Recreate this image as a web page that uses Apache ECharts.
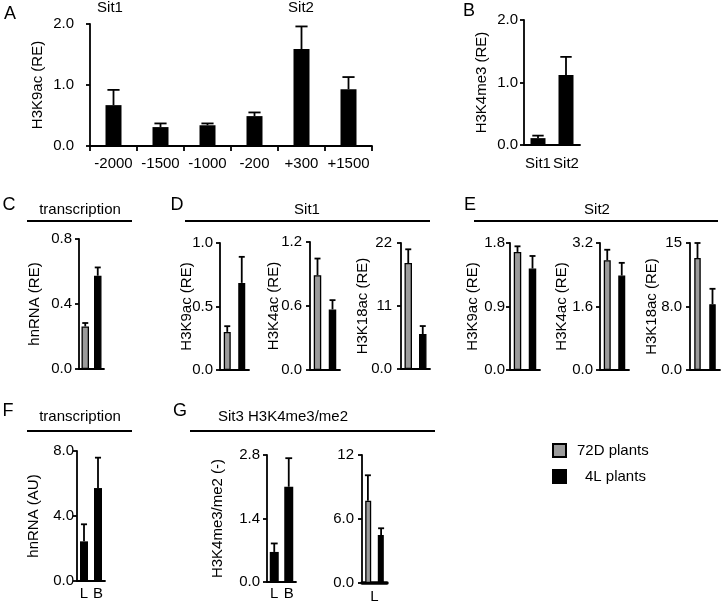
<!DOCTYPE html>
<html><head><meta charset="utf-8">
<script src="https://cdn.jsdelivr.net/npm/echarts@6/dist/echarts.min.js"></script>
<style>html,body{margin:0;padding:0;background:#fff}#c{width:722px;height:604px}</style>
</head><body><div id="c"></div>
<script>
// ---------- data ----------
const aCats = ['-2000','-1500','-1000','-200','+300','+1500'];
const aVals = [0.67,0.31,0.34,0.49,1.59,0.93];
const aErr  = [0.25,0.06,0.03,0.06,0.37,0.20];
const aTicks = ['0.0','1.0','2.0'];

const bCats = ['Sit1','Sit2'];
const bVals = [0.11,1.12];
const bErr  = [0.04,0.29];
const bTicks = ['0.0','1.0','2.0'];

// two-group panels: [72D plants, 4L plants]
const cVals = [0.262,0.574];  const cErr = [0.021,0.051]; const cTicks = ['0.0','0.4','0.8'];
const d1Vals = [0.30,0.686];  const d1Err = [0.045,0.205]; const d1Ticks = ['0.0','0.5','1.0'];
const d2Vals = [0.889,0.568]; const d2Err = [0.156,0.087]; const d2Ticks = ['0.0','0.6','1.2'];
const d3Vals = [18.5,6.1];    const d3Err = [2.4,1.4];     const d3Ticks = ['0.0','11','22'];
const e1Vals = [1.673,1.438]; const e1Err = [0.08,0.178];  const e1Ticks = ['0.0','0.9','1.8'];
const e2Vals = [2.765,2.38];  const e2Err = [0.265,0.32];  const e2Ticks = ['0.0','1.6','3.2'];
const e3Vals = [13.22,7.78];  const e3Err = [1.78,1.81];   const e3Ticks = ['0.0','8.0','15'];

const fCats = ['L','B'];
const fVals = [2.44,5.72];    const fErr = [1.05,1.87];    const fTicks = ['0.0','4.0','8.0'];
const g1Cats = ['L','B'];
const g1Vals = [0.663,2.10];  const g1Err = [0.187,0.63];  const g1Ticks = ['0.0','1.4','2.8'];
const g2Cats = ['L'];
const g2Vals = [7.72,4.5];    const g2Err = [2.38,0.63];   const g2Ticks = ['0.0','6.0','12'];

const groupNames = ['72D plants','4L plants'];
// ---------- styling ----------
const FONT = 'Liberation Sans, Arial, sans-serif';
const FS = 15;
const GRAY = '#9b9b9b';
const LW = 1.8;

const panels = [
  {key:'A', grid:{left:90,top:24,width:282,height:122}, max:2.0, ticks:aTicks, name:'H3K9ac (RE)', gap:45, lm:16,
   cats:aCats, single:aVals, err:aErr, bw:16, xTick:true, xLab:true, xm:10},
  {key:'B', grid:{left:524,top:20,width:56,height:125}, max:2.0, ticks:bTicks, name:'H3K4me3 (RE)', gap:35, lm:6,
   cats:bCats, single:bVals, err:bErr, bw:15, xLab:true, xm:11},
  {key:'C', grid:{left:79,top:239,width:25,height:130}, max:0.8, ticks:cTicks, name:'hnRNA (RE)', gap:37, lm:7,
   pair:cVals, err:cErr, bw:7.5},
  {key:'D1', grid:{left:220,top:243,width:29,height:127}, max:1.0, ticks:d1Ticks, name:'H3K9ac (RE)', gap:26, lm:7,
   pair:d1Vals, err:d1Err, bw:7},
  {key:'D2', grid:{left:310,top:242,width:30,height:128}, max:1.2, ticks:d2Ticks, name:'H3K4ac (RE)', gap:29, lm:8,
   pair:d2Vals, err:d2Err, bw:7.5},
  {key:'D3', grid:{left:401,top:243,width:29,height:126}, max:22, ticks:d3Ticks, name:'H3K18ac (RE)', gap:31, lm:9,
   pair:d3Vals, err:d3Err, bw:7.5},
  {key:'E1', grid:{left:510,top:243,width:30,height:127}, max:1.8, ticks:e1Ticks, name:'H3K9ac (RE)', gap:30, lm:5,
   pair:e1Vals, err:e1Err, bw:7.5},
  {key:'E2', grid:{left:600,top:243,width:29,height:127}, max:3.2, ticks:e2Ticks, name:'H3K4ac (RE)', gap:31, lm:7,
   pair:e2Vals, err:e2Err, bw:7},
  {key:'E3', grid:{left:690,top:243,width:30,height:127}, max:15, ticks:e3Ticks, name:'H3K18ac (RE)', gap:31, lm:8,
   pair:e3Vals, err:e3Err, bw:6.5},
  {key:'F', grid:{left:77,top:451,width:28,height:130}, max:8.0, ticks:fTicks, name:'hnRNA (AU)', gap:36, lm:3,
   cats:fCats, single:fVals, err:fErr, bw:8, xLab:true, xm:5},
  {key:'G1', grid:{left:267,top:455,width:29,height:127}, max:2.8, ticks:g1Ticks, name:'H3K4me3/me2 (-)', gap:42, lm:7,
   cats:g1Cats, single:g1Vals, err:g1Err, bw:9, xLab:true, xm:4},
  {key:'G2', grid:{left:362,top:455,width:25,height:128}, max:12, ticks:g2Ticks, name:'', gap:30, lm:8,
   cats:g2Cats, sideBySide:g2Vals, err:g2Err, bw:6, xLab:true, xm:6, thickX:true}
];

function errRender(capHalf, offsets) {
  return function (params, api) {
    const x = api.value(0), v = api.value(1), top = api.value(2);
    const p0 = api.coord([x, v]);
    const p1 = api.coord([x, top]);
    const px = p0[0] + (offsets ? offsets[params.dataIndex] : 0);
    const st = {stroke:'#000', lineWidth:LW};
    return {type:'group', children:[
      {type:'line', shape:{x1:px,y1:p0[1],x2:px,y2:p1[1]}, style:st},
      {type:'line', shape:{x1:px-capHalf,y1:p1[1],x2:px+capHalf,y2:p1[1]}, style:st}
    ]};
  };
}

const grids = [], xAxes = [], yAxes = [], series = [];
panels.forEach((p, i) => {
  grids.push(Object.assign({containLabel:false}, p.grid));
  const cats = p.cats || groupNames;
  xAxes.push({
    type:'category', gridIndex:i, data:cats,
    axisLine:{show:true, lineStyle:{color:'#000', width:p.thickX ? 3.5 : LW}},
    axisTick:{show:!!p.xTick, length:5, lineStyle:{color:'#000', width:LW}},
    axisLabel:{show:!!p.xLab, color:'#000', fontSize:FS, fontFamily:FONT, margin:p.xm||8, interval:0}
  });
  const max = p.max, ticks = p.ticks;
  yAxes.push({
    type:'value', gridIndex:i, min:0, max:max, interval:max/2,
    name:p.name, nameLocation:'middle', nameGap:p.gap, nameMoveOverlap:false,
    nameTextStyle:{color:'#000', fontSize:FS, fontFamily:FONT},
    axisLine:{show:true, lineStyle:{color:'#000', width:LW}},
    axisTick:{show:true, length:4, lineStyle:{color:'#000', width:LW}},
    splitLine:{show:false},
    axisLabel:{color:'#000', fontSize:FS, fontFamily:FONT, margin:p.lm,
      formatter:(v) => ticks[Math.round(v/(max/2))]}
  });
  const capHalf = Math.max(3, p.bw*0.38);
  if (p.single) {
    series.push({type:'bar', name:p.key, xAxisIndex:i, yAxisIndex:i, data:p.single, barWidth:p.bw,
      itemStyle:{color:'#000'}, silent:true});
    series.push({type:'custom', xAxisIndex:i, yAxisIndex:i, z:5, silent:true,
      renderItem:errRender(capHalf),
      data:p.single.map((v,k)=>[k, v, v + p.err[k]])});
  } else if (p.pair) {
    series.push({type:'bar', name:groupNames[0], xAxisIndex:i, yAxisIndex:i, data:[p.pair[0],'-'], barWidth:p.bw, barGap:'-100%',
      itemStyle:{color:GRAY, borderColor:'#000', borderWidth:1.3}, silent:true});
    series.push({type:'bar', name:groupNames[1], xAxisIndex:i, yAxisIndex:i, data:['-',p.pair[1]], barWidth:p.bw, barGap:'-100%',
      itemStyle:{color:'#000', borderColor:'#000', borderWidth:1.3}, silent:true});
    series.push({type:'custom', xAxisIndex:i, yAxisIndex:i, z:5, silent:true,
      renderItem:errRender(capHalf),
      data:p.pair.map((v,k)=>[k, v, v + p.err[k]])});
  } else if (p.sideBySide) {
    const gapPx = 6.6;
    series.push({type:'bar', name:groupNames[0], xAxisIndex:i, yAxisIndex:i, data:[p.sideBySide[0]], barWidth:p.bw, barGap:'110%',
      itemStyle:{color:GRAY, borderColor:'#000', borderWidth:1.3}, silent:true});
    series.push({type:'bar', name:groupNames[1], xAxisIndex:i, yAxisIndex:i, data:[p.sideBySide[1]], barWidth:p.bw, barGap:'110%',
      itemStyle:{color:'#000', borderColor:'#000', borderWidth:1.3}, silent:true});
    series.push({type:'custom', xAxisIndex:i, yAxisIndex:i, z:5, silent:true,
      renderItem:errRender(capHalf, [-gapPx, gapPx]),
      data:p.sideBySide.map((v,k)=>[0, v, v + p.err[k]])});
  }
});

const txt = (x, y, s, size, align) => ({type:'text', x:x, y:y,
  style:{text:s, fill:'#000', font:(size||FS)+'px '+FONT, textAlign:align||'center', textVerticalAlign:'middle'}});
const hline = (x1, x2, y, w) => ({type:'line', shape:{x1:x1,y1:y,x2:x2,y2:y}, style:{stroke:'#000', lineWidth:w||2}});

const graphics = [
  txt(10,14,'A',18), txt(469,11,'B',18), txt(9,205,'C',18), txt(177,205,'D',18), txt(470,205,'E',18),
  txt(8,411,'F',18), txt(180,411,'G',18),
  txt(110,8,'Sit1'), txt(301,8,'Sit2'),
  txt(80,210,'transcription'), hline(27,132,221),
  txt(307,210,'Sit1'), hline(185,430,221),
  txt(597,210,'Sit2'), hline(474,718,221),
  txt(80,417,'transcription'), hline(27,132,431),
  txt(283,417,'Sit3 H3K4me3/me2'), hline(190,435,431)
];

const chart = echarts.init(document.getElementById('c'), null, {renderer:'canvas'});
chart.setOption({
  animation:false,
  backgroundColor:'#fff',
  textStyle:{fontFamily:FONT},
  grid:grids, xAxis:xAxes, yAxis:yAxes, series:series,
  legend:[
    {data:[groupNames[0]], left:552, top:443, padding:0, orient:'vertical', icon:'rect', itemWidth:13, itemHeight:13,
     selectedMode:false, textStyle:{color:'#000', fontSize:FS, fontFamily:FONT, padding:[0,0,0,6]}},
    {data:[groupNames[1]], left:552, top:469, padding:0, orient:'vertical', icon:'rect', itemWidth:13, itemHeight:13,
     selectedMode:false, textStyle:{color:'#000', fontSize:FS, fontFamily:FONT, padding:[0,0,0,14]}}
  ],
  graphic:graphics
});
</script></body></html>
